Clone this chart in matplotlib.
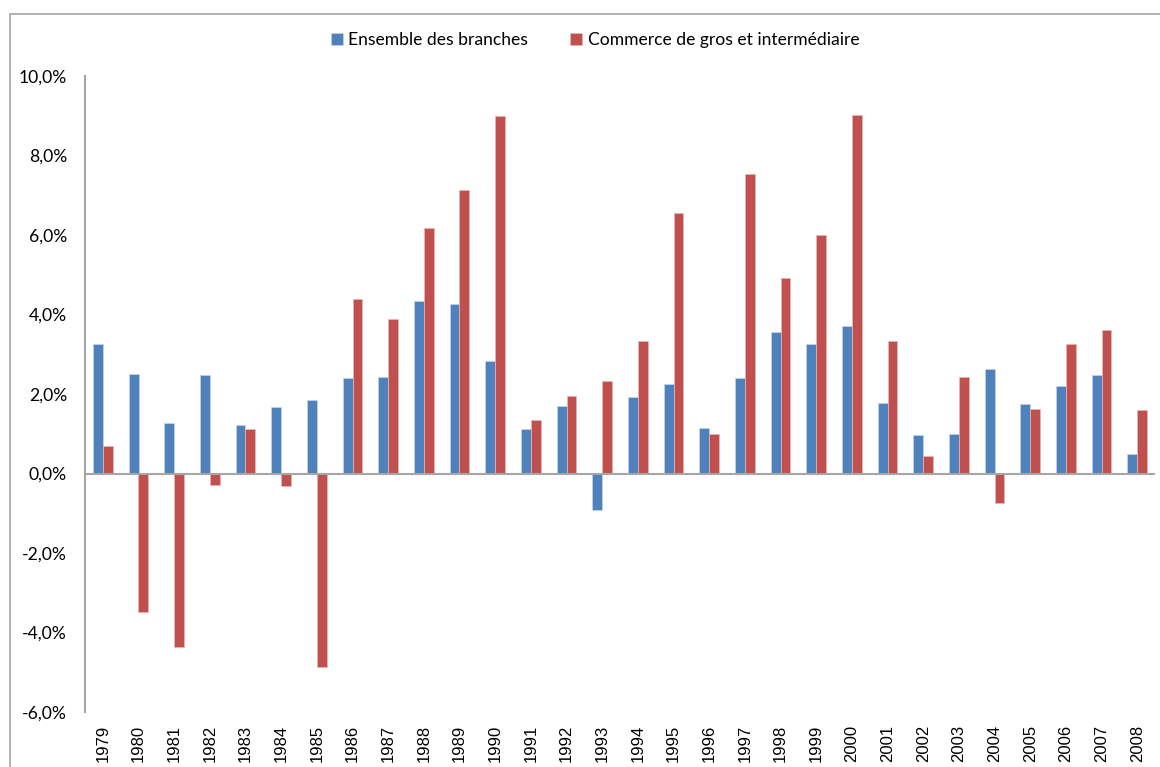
import matplotlib.pyplot as plt
import matplotlib.patches as mpatches
import numpy as np

years = [str(y) for y in range(1979, 2009)]
ensemble = [3.26, 2.51, 1.27, 2.47, 1.23, 1.68, 1.84, 2.40, 2.42, 4.35,
            4.26, 2.82, 1.12, 1.71, -0.91, 1.92, 2.26, 1.15, 2.40, 3.55,
            3.25, 3.72, 1.78, 0.97, 1.00, 2.62, 1.76, 2.19, 2.49, 0.50]
commerce = [0.70, -3.48, -4.37, -0.28, 1.12, -0.31, -4.87, 4.40, 3.89, 6.18,
            7.14, 8.99, 1.35, 1.96, 2.32, 3.33, 6.55, 0.99, 7.53, 4.91,
            5.99, 9.03, 3.34, 0.44, 2.42, -0.73, 1.62, 3.25, 3.62, 1.61]
yticks = [-6, -4, -2, 0, 2, 4, 6, 8, 10]

blue = '#4F81BD'
red = '#C0504D'

fig = plt.figure(figsize=(11.6, 7.67), dpi=100)
ax = fig.add_axes([85 / 1160, 1 - 712 / 767, 1070 / 1160, (712 - 76) / 767])

# outer frame like the Excel chart area
fig.patches.append(mpatches.Rectangle((9.5 / 1160, -0.05), 1.2, 1 - 13.5 / 767 + 0.05,
                                      transform=fig.transFigure, fill=False,
                                      edgecolor='#a6a6a6', linewidth=1.2))

x = np.arange(len(years))
w = 0.28
ax.bar(x - w / 2, ensemble, w, color=blue, edgecolor='#c6d4ea', linewidth=0.5,
       label='Ensemble des branches')
ax.bar(x + w / 2, commerce, w, color=red, edgecolor='#e6b8b7', linewidth=0.5,
       label='Commerce de gros et intermédiaire')

ax.set_xlim(-0.5, len(years) - 0.5)
ax.set_ylim(-6, 10)
ax.axhline(0, color='#a6a6a6', linewidth=1.5, zorder=3)

ax.set_yticks(yticks)
ax.set_yticklabels([f'{v:.1f}%'.replace('.', ',') for v in yticks],
                   fontsize=12.6, family='Lato')
ax.set_xticks(x)
ax.set_xticklabels(years, rotation=90, fontsize=12, family='Liberation Sans')
ax.tick_params(axis='y', length=0, pad=13)
ax.tick_params(axis='x', length=0, pad=9)

for s in ['top', 'right', 'bottom']:
    ax.spines[s].set_visible(False)
ax.spines['left'].set_color('#a6a6a6')
ax.spines['left'].set_linewidth(1.5)

fig.legend(loc='center', bbox_to_anchor=(0.513, 1 - 40 / 767), ncol=2, frameon=False,
           prop={'family': 'Lato', 'size': 12.6}, handlelength=0.7, handleheight=0.7,
           handletextpad=0.3, columnspacing=2.4)

fig.savefig('out.png', dpi=100)
